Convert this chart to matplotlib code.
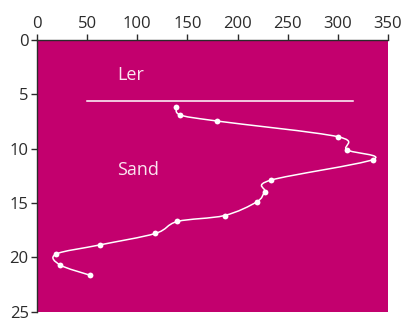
import numpy as np
import matplotlib as mpl
mpl.use('Agg')
import matplotlib.pyplot as plt
from matplotlib.path import Path
from matplotlib.patches import PathPatch

# sonde readings: resistance vs depth
resistance = [139, 143, 179, 300, 309, 335, 233, 227, 219, 187, 140, 118, 63, 19, 23, 53]
depth = [6.2, 6.9, 7.45, 8.9, 10.1, 11.0, 12.9, 13.95, 14.9, 16.15, 16.7, 17.8, 18.85, 19.7, 20.7, 21.65]

layer_depth = 5.6
layer_span = [50, 315]
layer_names = ['Ler', 'Sand']
label_pos = [(80, 3.2), (80, 12.0)]

bg = '#c3006e'
fg = 'white'

plt.rcParams['font.family'] = ['Open Sans', 'DejaVu Sans']

fig = plt.figure(figsize=(4.05, 3.2), dpi=100)
ax = fig.add_axes([0.0914, 0.026, 0.8666, 0.849])
ax.set_facecolor(bg)

# smooth curve through the points (catmull-rom as cubic beziers)
pts = np.column_stack([resistance, depth])
verts = [pts[0]]
codes = [Path.MOVETO]
n = len(pts)
for i in range(n - 1):
    p0 = pts[i - 1] if i > 0 else pts[i]
    p1 = pts[i]
    p2 = pts[i + 1]
    p3 = pts[i + 2] if i + 2 < n else pts[i + 1]
    c1 = p1 + (p2 - p0) / 6
    c2 = p2 - (p3 - p1) / 6
    verts += [c1, c2, p2]
    codes += [Path.CURVE4] * 3
ax.add_patch(PathPatch(Path(verts, codes), fill=False, edgecolor=fg, lw=1.1))
ax.plot(resistance, depth, 'o', color=fg, ms=4.2, mec='none')

ax.plot(layer_span, [layer_depth, layer_depth], color=fg, lw=1.1)
for name, (x, y) in zip(layer_names, label_pos):
    ax.text(x, y, name, color='#fbe6f0', fontsize=13, va='center', ha='left')

ax.set_xlim(0, 350)
ax.set_ylim(25, 0)
ax.set_xticks(range(0, 351, 50))
ax.set_yticks(range(0, 26, 5))
ax.xaxis.tick_top()
for s in ['right', 'bottom']:
    ax.spines[s].set_visible(False)
for s in ['left', 'top']:
    ax.spines[s].set_color('#2b2b2b')
    ax.spines[s].set_linewidth(1.0)
ax.tick_params(colors='#2b2b2b', labelsize=12, length=4, width=1, pad=2)

fig.savefig('out.png', dpi=100)
